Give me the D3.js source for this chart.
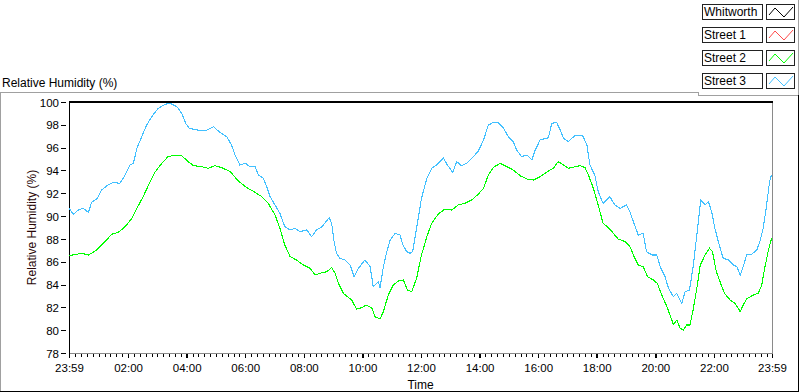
<!DOCTYPE html>
<html>
<head>
<meta charset="utf-8">
<script src="https://cdn.jsdelivr.net/npm/d3@7"></script>
<style>
  html, body { margin: 0; padding: 0; background: #ffffff; }
  svg { display: block; font-family: "Liberation Sans", Arial, sans-serif; }
</style>
</head>
<body>
<svg id="chart" width="800" height="392"></svg>
<script>
// ---------- data ----------
const seriesNames = ["Whitworth", "Street 1", "Street 2", "Street 3"];
const seriesColors = ["#000000", "#ff4a4a", "#00ff00", "#42c0ff"];

// minutes after midnight (-1 = 23:59 of previous day)
const whitworthTimes = [];
const whitworthValues = [];
const street1Times = [];
const street1Values = [];

const street2Times = [-1, 25, 39, 56, 73, 86, 100, 114, 127, 138, 151, 165, 175, 189, 202, 216, 230, 243, 254, 271, 284, 298, 312, 329, 346, 363, 380, 394, 407, 421, 431, 441, 452, 465, 479, 493, 503, 513, 527, 537, 544, 551, 561, 578, 588, 599, 607, 619, 626, 636, 643, 653, 663, 674, 684, 692, 701, 711, 721, 732, 742, 755, 769, 783, 796, 810, 824, 837, 848, 858, 868, 882, 896, 909, 923, 937, 950, 964, 981, 991, 1001, 1012, 1022, 1036, 1046, 1056, 1063, 1073, 1083, 1093, 1104, 1114, 1124, 1138, 1148, 1158, 1165, 1175, 1184, 1196, 1204, 1213, 1223, 1230, 1237, 1244, 1251, 1257, 1264, 1271, 1278, 1285, 1292, 1302, 1311, 1317, 1325, 1335, 1342, 1353, 1363, 1374, 1380, 1387, 1401, 1411, 1418, 1424, 1431, 1438];
const street2Values = [86.53, 86.74, 86.59, 87.03, 87.76, 88.4, 88.58, 89.07, 89.75, 90.68, 91.7, 93.01, 93.84, 94.63, 95.21, 95.35, 95.29, 94.77, 94.42, 94.33, 94.19, 94.42, 94.25, 93.9, 93.08, 92.49, 92.09, 91.7, 91.12, 90.1, 88.93, 87.47, 86.45, 86.15, 85.71, 85.42, 84.84, 84.99, 85.13, 85.48, 84.99, 84.11, 83.23, 82.65, 81.86, 81.97, 82.21, 81.97, 81.18, 80.98, 81.62, 83.09, 83.96, 84.31, 84.4, 83.52, 83.38, 84.55, 86.59, 88.2, 89.37, 90.16, 90.62, 90.53, 90.97, 91.12, 91.41, 91.91, 92.44, 93.6, 94.25, 94.63, 94.33, 94.04, 93.54, 93.25, 93.16, 93.45, 93.95, 94.19, 94.77, 94.48, 94.19, 94.33, 94.42, 94.25, 93.6, 92.44, 90.97, 89.37, 88.99, 88.49, 87.99, 87.76, 87.32, 86.3, 85.71, 85.57, 84.69, 84.4, 84.11, 83.09, 82.15, 81.33, 80.51, 80.89, 80.16, 80.01, 80.45, 80.45, 81.91, 83.67, 85.71, 86.59, 87.18, 86.88, 85.13, 83.96, 83.23, 82.65, 82.36, 81.62, 82.21, 82.74, 83.09, 83.23, 83.96, 85.42, 86.88, 88.05];

const street3Times = [-1, 8, 18, 28, 39, 45, 56, 66, 79, 90, 103, 114, 124, 131, 138, 148, 158, 170, 182, 196, 206, 220, 230, 238, 245, 261, 278, 295, 308, 322, 332, 339, 349, 360, 370, 380, 387, 397, 404, 411, 421, 431, 441, 452, 462, 472, 486, 496, 506, 517, 532, 537, 542, 547, 554, 564, 575, 583, 592, 605, 616, 622, 633, 636, 643, 650, 657, 667, 677, 683, 691, 698, 703, 711, 721, 732, 742, 752, 766, 774, 785, 793, 803, 814, 827, 837, 848, 858, 868, 878, 889, 899, 909, 916, 926, 937, 947, 954, 964, 981, 988, 998, 1005, 1012, 1022, 1036, 1051, 1060, 1066, 1076, 1083, 1093, 1107, 1117, 1128, 1141, 1148, 1155, 1165, 1175, 1182, 1193, 1203, 1210, 1220, 1227, 1237, 1244, 1254, 1261, 1270, 1278, 1285, 1293, 1302, 1309, 1316, 1322, 1329, 1339, 1350, 1360, 1367, 1374, 1380, 1387, 1397, 1408, 1414, 1421, 1428, 1434, 1438];
const street3Values = [90.68, 90.16, 90.53, 90.68, 90.33, 91.2, 91.5, 92.29, 92.73, 92.96, 92.87, 93.6, 94.48, 94.63, 95.94, 96.96, 97.98, 98.8, 99.45, 99.8, 99.88, 99.59, 99.0, 98.13, 97.7, 97.55, 97.46, 97.84, 97.34, 96.96, 96.23, 95.35, 94.48, 94.63, 94.33, 94.33, 93.6, 93.31, 92.58, 91.7, 90.97, 90.24, 89.07, 88.78, 88.93, 88.63, 88.78, 88.2, 88.78, 89.07, 89.86, 89.37, 87.76, 86.74, 86.3, 86.15, 85.7, 84.7, 85.43, 86.15, 85.57, 83.81, 84.25, 83.67, 85.57, 86.88, 87.91, 88.49, 88.34, 87.47, 86.88, 86.74, 86.88, 88.93, 91.56, 93.31, 94.19, 94.48, 95.07, 94.48, 93.84, 94.77, 94.42, 94.63, 95.21, 95.65, 96.67, 97.98, 98.21, 98.21, 97.7, 96.96, 96.52, 95.79, 95.21, 95.35, 94.92, 95.79, 96.67, 96.87, 98.13, 98.21, 97.55, 96.82, 96.52, 97.1, 97.05, 96.23, 94.48, 93.6, 92.14, 91.12, 91.7, 90.97, 90.68, 90.97, 90.39, 89.51, 88.34, 88.49, 86.88, 86.59, 86.59, 85.57, 84.69, 83.67, 82.94, 83.23, 82.35, 83.38, 83.52, 85.71, 88.34, 91.41, 90.97, 91.26, 90.24, 88.93, 87.76, 86.3, 86.15, 85.71, 85.57, 84.84, 85.57, 86.59, 86.65, 87.03, 87.76, 88.93, 90.97, 93.01, 93.6];

const xTickValues = [-1, 120, 240, 360, 480, 600, 720, 840, 960, 1080, 1200, 1320, 1439];
const xTickLabels = ["23:59", "02:00", "04:00", "06:00", "08:00", "10:00", "12:00", "14:00", "16:00", "18:00", "20:00", "22:00", "23:59"];
const yTickValues = [78, 80, 82, 84, 86, 88, 90, 92, 94, 96, 98, 100];

// ---------- layout ----------
const svg = d3.select("#chart");
const L = 69, R = 772, T = 102, B = 353;

const x = d3.scaleLinear().domain([-1, 1439]).range([L, R]);
const y = d3.scaleLinear().domain([78, 100]).range([B, T]);

// outer frame
const frame = svg.append("g").attr("shape-rendering", "crispEdges");
frame.append("path").attr("d", "M0.5,391.5 V92.5 H698.5 V95.5 H798.5")
  .attr("fill", "none").attr("stroke", "#a0a0a0");
frame.append("path").attr("d", "M798.5,0 V95")
  .attr("fill", "none").attr("stroke", "#a0a0a0");
frame.append("path").attr("d", "M0,391.5 H798.5 V95")
  .attr("fill", "none").attr("stroke", "#000");

// top-left title
svg.append("text").attr("x", 2).attr("y", 87)
  .attr("font-size", 12).attr("fill", "#000").text("Relative Humidity (%)");

// plot frame
const pf = svg.append("g").attr("shape-rendering", "crispEdges");
pf.append("line").attr("x1", R + 0.5).attr("x2", R + 0.5).attr("y1", T).attr("y2", B + 1).attr("stroke", "#8a8a8a");
pf.append("line").attr("x1", L).attr("x2", R + 1).attr("y1", B + 0.5).attr("y2", B + 0.5).attr("stroke", "#8a8a8a");

// lines
const lineGen = d3.line().x(d => x(d.t)).y(d => y(d.v));
const series = [
  { times: whitworthTimes, values: whitworthValues },
  { times: street1Times, values: street1Values },
  { times: street2Times, values: street2Values },
  { times: street3Times, values: street3Values }
];
const plot = svg.append("g");
series.forEach((s, i) => {
  const pts = s.times.map((t, k) => ({ t: t, v: s.values[k] }));
  if (!pts.length) return;
  plot.append("path").datum(pts)
    .attr("d", lineGen)
    .attr("fill", "none")
    .attr("stroke", seriesColors[i])
    .attr("stroke-width", 1.1)
    .attr("shape-rendering", "crispEdges");
});

// top thick line and left axis line
pf.append("rect").attr("x", L).attr("y", T - 1).attr("width", R - L + 1).attr("height", 2).attr("fill", "#000");
pf.append("line").attr("x1", L + 0.5).attr("x2", L + 0.5).attr("y1", T).attr("y2", B + 1).attr("stroke", "#000");

// y axis
const yAxis = svg.append("g").attr("transform", `translate(${L},0)`)
  .call(d3.axisLeft(y).tickValues(yTickValues).tickSize(0).tickPadding(10).tickFormat(d3.format("d")));
yAxis.select(".domain").remove();
yAxis.selectAll(".tick text").attr("font-family", "'Liberation Sans', Arial, sans-serif")
  .attr("font-size", 11.5).attr("fill", "#000").attr("dy", "0.36em");
yAxis.selectAll(".tick").append("line")
  .attr("x1", -8).attr("x2", -3).attr("stroke", "#000").attr("shape-rendering", "crispEdges");

// x axis major
const xAxis = svg.append("g").attr("transform", `translate(0,${B + 1})`)
  .call(d3.axisBottom(x).tickValues(xTickValues).tickSize(4).tickPadding(6)
    .tickFormat((d, i) => xTickLabels[i]));
xAxis.select(".domain").remove();
xAxis.selectAll(".tick line").attr("stroke", "#000").attr("stroke-width", 1.5).attr("shape-rendering", "crispEdges");
xAxis.selectAll(".tick text").attr("font-family", "'Liberation Sans', Arial, sans-serif")
  .attr("font-size", 11.5).attr("fill", "#000");

// x axis minor ticks
const minorTicks = d3.range(12, 1439, 12).filter(m => m % 120 !== 0);
const xMinor = svg.append("g").attr("transform", `translate(0,${B + 1})`)
  .call(d3.axisBottom(x).tickValues(minorTicks).tickSize(3).tickFormat(""));
xMinor.select(".domain").remove();
xMinor.selectAll(".tick line").attr("stroke", "#000").attr("shape-rendering", "crispEdges");

// axis titles
svg.append("text").attr("x", (L + R) / 2).attr("y", 389).attr("text-anchor", "middle")
  .attr("font-size", 12).attr("fill", "#000").text("Time");
svg.append("text").attr("transform", `translate(36,${(T + B) / 2}) rotate(-90)`)
  .attr("text-anchor", "middle").attr("font-size", 12).attr("fill", "#2a0808")
  .text("Relative Humidity (%)");

// legend
const legend = svg.append("g");
const legTops = [4, 27, 50, 73];
seriesNames.forEach((name, i) => {
  const g = legend.append("g").attr("transform", `translate(702,${legTops[i]})`);
  g.append("rect").attr("x", 0.5).attr("y", 0.5).attr("width", 60).attr("height", 15)
    .attr("fill", "#fff").attr("stroke", "#222").attr("shape-rendering", "crispEdges");
  g.append("text").attr("x", 2).attr("y", 12).attr("font-size", 12).attr("fill", "#000").text(name);
  g.append("rect").attr("x", 64.5).attr("y", 0.5).attr("width", 28).attr("height", 15)
    .attr("fill", "#fff").attr("stroke", "#222").attr("shape-rendering", "crispEdges");
  g.append("path").attr("d", "M67,11 L73,4 L82,13 L91,3")
    .attr("fill", "none").attr("stroke", seriesColors[i]).attr("stroke-width", 1);
});
</script>
</body>
</html>
